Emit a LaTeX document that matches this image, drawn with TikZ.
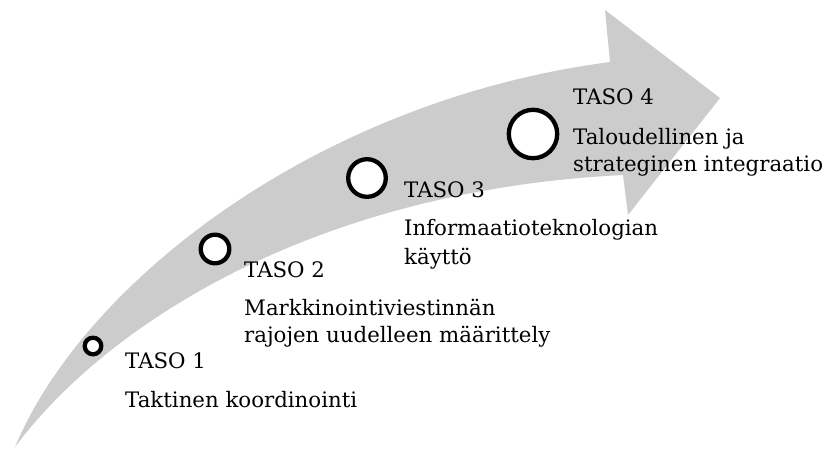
\documentclass[tikz,border=0pt]{standalone}
\usepackage{fontspec}
\setmainfont{DejaVu Serif}
\begin{document}
\begin{tikzpicture}[x=1pt,y=-1pt,
  lvl/.style={circle,draw=black,fill=white,line width=4.3pt,inner sep=0pt},
  lbl/.style={anchor=base west,inner sep=0pt,font=\fontsize{21.3}{26.7}\selectfont}]
\definecolor{arrowgray}{RGB}{204,204,204}
\useasboundingbox (0,0) rectangle (824,448);
% curved progress arrow
\fill[arrowgray] (15,447) .. controls (85,280) and (320,100) .. (610,62)
  -- (605,10) -- (720,98) -- (628,215) -- (623,175)
  .. controls (320,190) and (110,320) .. (15,447) -- cycle;
% level markers
\node[lvl,minimum size=16.6pt] (c1) at (93,346) {};
\node[lvl,minimum size=28.6pt] (c2) at (215,249) {};
\node[lvl,minimum size=37.6pt] (c3) at (367,178) {};
\node[lvl,minimum size=48.4pt] (c4) at (533,134) {};
% level texts
\node[lbl] (t1) at (125,368) {TASO 1};
\node[lbl] (d1) at (125,407) {Taktinen koordinointi};
\node[lbl] (t2) at (244,277) {TASO 2};
\node[lbl] (d2a) at (244,315) {Markkinointiviestinnän};
\node[lbl] (d2b) at (244,342) {rajojen uudelleen määrittely};
\node[lbl] (t3) at (404,197) {TASO 3};
\node[lbl] (d3a) at (404,235) {Informaatioteknologian};
\node[lbl] (d3b) at (404,264) {käyttö};
\node[lbl] (t4) at (573,104) {TASO 4};
\node[lbl] (d4a) at (573,144) {Taloudellinen ja};
\node[lbl] (d4b) at (573,171) {strateginen integraatio};
\end{tikzpicture}
\end{document}
